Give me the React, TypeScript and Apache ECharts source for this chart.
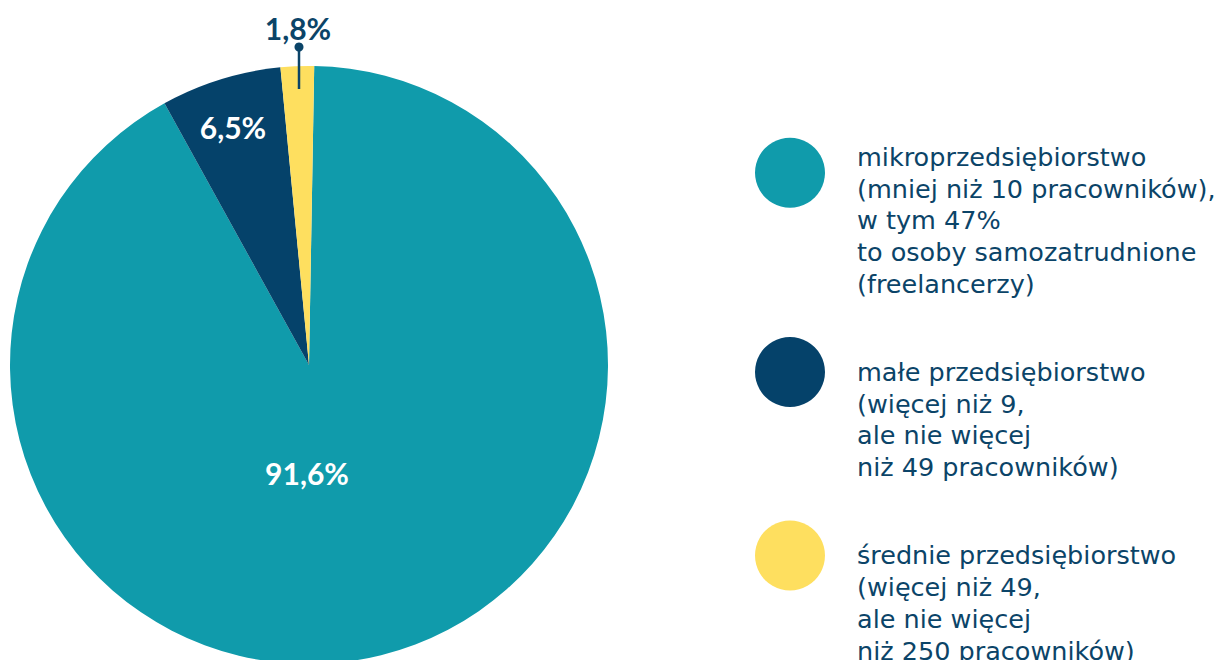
import React, { useEffect, useRef } from "react";
import * as echarts from "echarts";

const categories = [
  "mikroprzedsiębiorstwo",
  "małe przedsiębiorstwo",
  "średnie przedsiębiorstwo",
];
const values = [91.6, 6.5, 1.8];
const valueLabels = ["91,6%", "6,5%", "1,8%"];
const legendLabels = [
  "mikroprzedsiębiorstwo\n(mniej niż 10 pracowników),\nw tym 47%\nto osoby samozatrudnione\n(freelancerzy)",
  "małe przedsiębiorstwo\n(więcej niż 9,\nale nie więcej\nniż 49 pracowników)",
  "średnie przedsiębiorstwo\n(więcej niż 49,\nale nie więcej\nniż 250 pracowników)",
];

const colors = ["#109bab", "#05426a", "#fedf5f"];
const navy = "#0b4468";
const labelPos = [
  [307, 473],
  [233, 127],
  [298, 28],
];
const labelColors = ["#ffffff", "#ffffff", navy];

export default function App() {
  const ref = useRef<HTMLDivElement>(null);
  useEffect(() => {
    document.body.style.margin = "0";
    const chart = echarts.init(ref.current!, null, { renderer: "svg" });
    chart.setOption({
      animation: false,
      color: colors,
      legend: {
        orient: "vertical",
        left: 755,
        top: 46,
        padding: 0,
        itemWidth: 70,
        itemHeight: 70,
        itemGap: -38.5,
        icon: "circle",
        selectedMode: false,
        data: categories,
        formatter: (name: string) =>
          "\u00a0\n\u00a0\n\u00a0\n" + legendLabels[categories.indexOf(name)],
        textStyle: {
          color: navy,
          fontSize: 25.5,
          lineHeight: 31.7,
          fontFamily: "DejaVu Sans",
          padding: [0, 0, 0, 27],
        },
      },
      graphic: [
        {
          type: "line",
          shape: { x1: 299, y1: 47, x2: 299, y2: 89 },
          style: { stroke: navy, lineWidth: 2.5 },
          z: 10,
        },
        {
          type: "circle",
          shape: { cx: 299, cy: 47, r: 4.5 },
          style: { fill: navy },
          z: 10,
        },
      ],
      series: [
        {
          type: "pie",
          center: [309, 365],
          radius: 299,
          startAngle: 89,
          clockwise: true,
          silent: true,
          data: categories.map((c, i) => ({
            name: c,
            value: values[i],
            label: {
              show: true,
              position: i === 2 ? "outside" : "inside",
              formatter: valueLabels[i],
              color: labelColors[i],
              fontSize: 30,
              fontWeight: "bold",
              fontFamily: "Lato",
            },
            labelLine: { show: false },
          })),
          labelLayout: (params: any) => ({
            x: labelPos[params.dataIndex][0],
            y: labelPos[params.dataIndex][1],
            align: "center",
            verticalAlign: "middle",
          }),
          itemStyle: { borderWidth: 0 },
        },
      ],
    });
    return () => chart.dispose();
  }, []);
  return <div ref={ref} style={{ width: 1222, height: 660 }} />;
}
